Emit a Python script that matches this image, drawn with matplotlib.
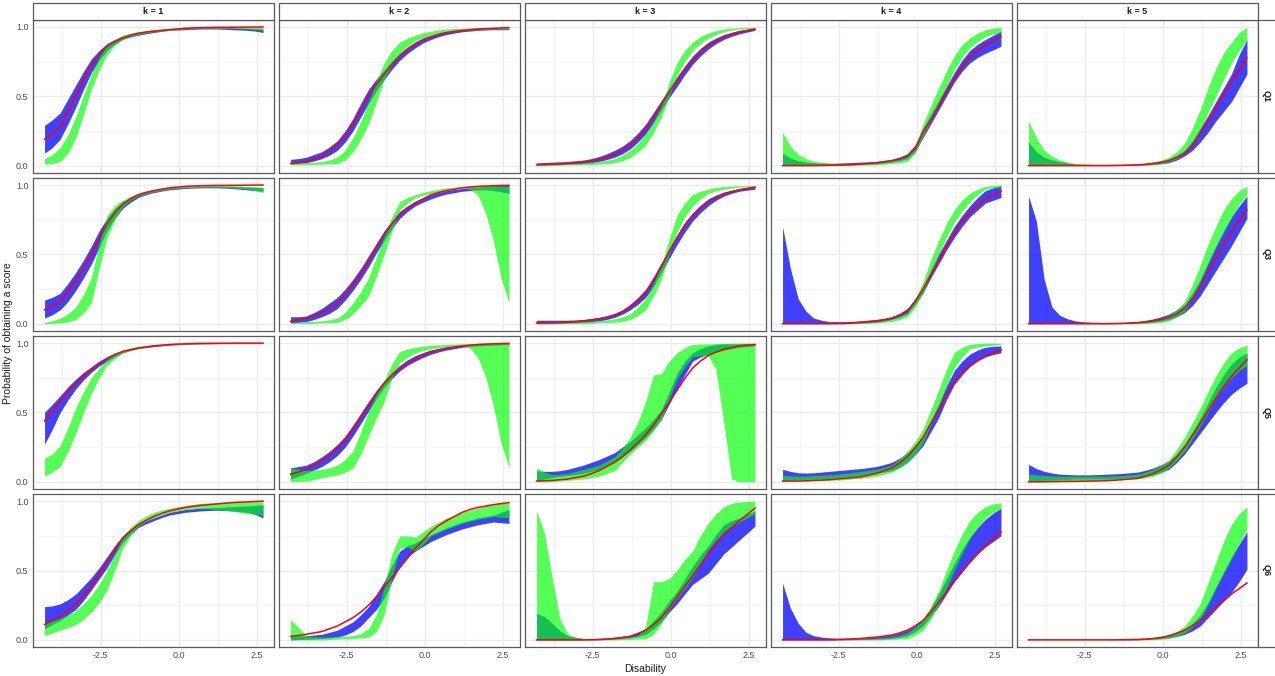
import matplotlib
matplotlib.use("Agg")
import matplotlib.pyplot as plt
from matplotlib.patches import Rectangle

plt.rcParams['font.family'] = ['Liberation Sans', 'DejaVu Sans']

# ---------------- data ----------------
X = [-4.3, -4.05, -3.8, -3.55, -3.3, -3.05, -2.8, -2.55, -2.3, -2.05, -1.8, -1.55, -1.3, -1.05,
     -0.8, -0.55, -0.3, -0.05, 0.2, 0.45, 0.7, 0.95, 1.2, 1.45, 1.7, 1.95, 2.2, 2.45, 2.7]
K_LABELS = ["k = 1", "k = 2", "k = 3", "k = 4", "k = 5"]
Q_LABELS = ["Q1", "Q3", "Q5", "Q6"]
X_TICKS = [-2.5, 0.0, 2.5]
X_TICK_LABELS = ["-2.5", "0.0", "2.5"]
Y_TICKS = [0.0, 0.5, 1.0]
Y_TICK_LABELS = ["0.0", "0.5", "1.0"]

# ---------- Q1 (one list per k) ----------
Q1_RED = [
    [.19, .23, .28, .39, .50, .62, .72, .80, .86, .895, .92, .94, .955, .963, .97, .975, .98, .985, .99, .993, .995, .996, .997, .9975, .998, .9985, .999, .9995, 1.0],
    [.015, .02, .03, .045, .07, .105, .15, .22, .30, .40, .50, .585, .66, .73, .79, .84, .88, .91, .93, .947, .96, .968, .975, .98, .985, .988, .99, .993, .995],
    [.005, .007, .01, .012, .015, .02, .025, .033, .045, .06, .08, .11, .15, .20, .26, .345, .44, .53, .61, .69, .76, .82, .87, .90, .93, .95, .965, .975, .985],
    [0, 0, 0, 0, 0, .001, .002, .003, .005, .007, .01, .015, .02, .027, .035, .05, .07, .12, .24, .33, .43, .53, .63, .71, .78, .83, .87, .90, .93],
    [0, 0, 0, 0, 0, 0, 0, 0, 0, 0, 0, .001, .002, .003, .005, .009, .015, .023, .035, .058, .09, .15, .23, .32, .41, .51, .60, .69, .78],
]
Q1_BLUE_HI = [
    [.29, .33, .38, .48, .58, .68, .77, .83, .88, .91, .935, .95, .96, .968, .975, .98, .985, .988, .99, .993, .995, .995, .995, .995, .995, .993, .99, .988, .985],
    [.045, .05, .06, .08, .10, .135, .18, .25, .34, .45, .55, .625, .69, .755, .81, .855, .89, .915, .935, .952, .965, .973, .98, .985, .99, .99, .99, .99, .99],
    [.02, .022, .025, .027, .03, .035, .04, .05, .065, .085, .11, .14, .18, .235, .30, .385, .47, .56, .64, .72, .79, .845, .89, .92, .945, .96, .975, .983, .99],
    [.09, .055, .035, .025, .02, .017, .015, .017, .02, .022, .025, .027, .03, .037, .045, .06, .085, .15, .27, .37, .47, .57, .67, .76, .83, .875, .91, .94, .97],
    [.17, .10, .06, .04, .03, .018, .01, .009, .008, .007, .006, .007, .008, .01, .012, .017, .025, .035, .05, .075, .11, .18, .27, .36, .46, .56, .66, .80, .91],
]
Q1_BLUE_LO = [
    [.09, .13, .19, .30, .42, .55, .67, .76, .83, .875, .91, .927, .94, .95, .96, .968, .975, .978, .98, .983, .985, .985, .985, .983, .98, .978, .975, .97, .96],
    [.01, .015, .02, .033, .05, .075, .11, .17, .25, .35, .45, .54, .62, .695, .76, .81, .85, .885, .91, .93, .945, .956, .965, .97, .975, .978, .98, .98, .98],
    [.005, .005, .005, .007, .01, .012, .015, .02, .03, .043, .06, .085, .12, .17, .23, .31, .40, .49, .57, .655, .73, .79, .84, .88, .91, .932, .95, .963, .975],
    [0, 0, 0, 0, 0, 0, 0, .002, .005, .006, .008, .01, .012, .018, .025, .035, .05, .10, .20, .30, .40, .50, .60, .68, .74, .78, .81, .835, .86],
    [0, 0, 0, 0, 0, 0, 0, 0, 0, 0, 0, 0, 0, .001, .002, .005, .008, .013, .02, .04, .07, .11, .17, .24, .32, .39, .46, .56, .66],
]
Q1_GREEN_HI = [
    [.05, .08, .13, .22, .35, .51, .66, .78, .87, .91, .94, .955, .965, .973, .98, .985, .99, .993, .995, .997, .998, .999, 1.0, 1.0, 1.0, .999, .998, .997, .995],
    [.025, .022, .02, .024, .03, .04, .06, .11, .20, .32, .46, .61, .74, .83, .89, .92, .94, .957, .97, .978, .985, .988, .99, .993, .995, .995, .995, .995, .995],
    [.015, .013, .012, .013, .015, .017, .02, .025, .03, .038, .05, .075, .11, .16, .23, .32, .43, .60, .74, .83, .89, .93, .955, .973, .985, .99, .995, .997, .998],
    [.24, .14, .08, .05, .03, .024, .02, .017, .015, .015, .015, .017, .02, .027, .035, .045, .065, .14, .30, .43, .56, .68, .79, .87, .92, .955, .98, .99, 1.0],
    [.32, .20, .11, .065, .04, .025, .015, .011, .008, .006, .004, .004, .004, .006, .008, .015, .025, .04, .06, .10, .16, .27, .40, .56, .70, .81, .89, .96, .995],
]
Q1_GREEN_LO = [
    [.01, .015, .03, .09, .20, .37, .55, .69, .80, .87, .91, .93, .945, .956, .965, .97, .975, .98, .985, .988, .99, .99, .99, .99, .99, .988, .985, .98, .975],
    [.005, .005, .005, .007, .01, .012, .015, .04, .10, .19, .30, .46, .62, .73, .81, .86, .90, .922, .94, .95, .96, .968, .975, .978, .98, .983, .985, .985, .985],
    [0, 0, 0, .002, .005, .005, .005, .007, .01, .014, .02, .035, .06, .10, .15, .24, .35, .50, .65, .75, .83, .88, .92, .945, .965, .977, .985, .988, .99],
    [0, 0, 0, 0, 0, 0, 0, 0, 0, .001, .003, .004, .005, .01, .015, .02, .03, .09, .21, .33, .45, .57, .69, .78, .85, .895, .93, .95, .96],
    [0, 0, 0, 0, 0, 0, 0, 0, 0, 0, 0, 0, 0, 0, 0, .002, .005, .013, .025, .05, .09, .16, .26, .38, .50, .62, .74, .83, .91],
]

# ---------- Q3 ----------
Q3_RED = [
    [.10, .125, .16, .23, .31, .40, .50, .61, .72, .80, .86, .90, .93, .947, .96, .97, .98, .985, .99, .993, .995, .996, .997, .9975, .998, .9985, .999, .9995, 1.0],
    [.017, .027, .04, .057, .08, .11, .15, .21, .28, .36, .45, .55, .64, .72, .79, .835, .87, .90, .93, .947, .96, .97, .98, .985, .99, .993, .995, .997, .998],
    [.005, .006, .007, .008, .01, .015, .02, .027, .035, .046, .06, .085, .12, .165, .22, .31, .41, .52, .62, .71, .78, .835, .88, .91, .935, .952, .965, .976, .985],
    [0, 0, 0, 0, 0, 0, 0, .001, .002, .005, .01, .015, .02, .028, .04, .06, .09, .16, .25, .35, .45, .56, .66, .74, .80, .855, .90, .93, .955],
    [0, 0, 0, 0, 0, 0, 0, 0, 0, 0, 0, .001, .002, .005, .008, .013, .02, .03, .045, .07, .11, .18, .27, .37, .47, .57, .66, .745, .82],
]
Q3_BLUE_HI = [
    [.17, .19, .22, .29, .37, .46, .56, .67, .76, .83, .88, .91, .935, .952, .965, .973, .98, .983, .985, .988, .99, .99, .99, .99, .99, .988, .985, .983, .98],
    [.05, .05, .055, .08, .11, .15, .19, .25, .32, .40, .49, .58, .67, .745, .81, .85, .885, .91, .93, .947, .96, .968, .975, .98, .985, .99, .995, .998, 1.0],
    [.025, .025, .025, .025, .025, .027, .03, .037, .045, .058, .075, .10, .14, .19, .25, .34, .44, .54, .64, .73, .80, .855, .90, .928, .95, .963, .975, .983, .99],
    [.70, .40, .18, .09, .04, .025, .015, .015, .015, .017, .02, .025, .03, .038, .05, .075, .11, .18, .27, .39, .50, .60, .70, .78, .85, .91, .96, .98, .995],
    [.92, .74, .32, .12, .06, .035, .02, .014, .01, .009, .008, .008, .008, .011, .015, .024, .035, .05, .07, .10, .14, .22, .32, .44, .56, .67, .77, .85, .92],
]
Q3_BLUE_LO = [
    [.04, .065, .10, .16, .24, .33, .43, .55, .67, .76, .83, .875, .91, .93, .945, .956, .965, .97, .975, .978, .98, .98, .98, .978, .975, .97, .965, .96, .955],
    [.005, .01, .015, .03, .05, .075, .11, .17, .24, .32, .41, .51, .60, .685, .76, .81, .85, .877, .90, .92, .935, .945, .955, .96, .965, .965, .96, .95, .94],
    [0, 0, 0, .002, .005, .007, .01, .014, .02, .03, .045, .068, .10, .14, .19, .27, .37, .47, .57, .66, .74, .80, .85, .89, .92, .94, .955, .963, .97],
    [0, 0, 0, 0, 0, 0, 0, 0, 0, .002, .005, .007, .01, .018, .03, .045, .07, .14, .22, .33, .43, .53, .62, .70, .77, .82, .87, .89, .91],
    [0, 0, 0, 0, 0, 0, 0, 0, 0, 0, 0, 0, 0, .001, .002, .005, .01, .018, .03, .05, .08, .13, .20, .29, .38, .47, .56, .66, .76],
]
Q3_GREEN_HI = [
    [.01, .02, .04, .07, .12, .21, .33, .58, .78, .85, .89, .92, .94, .953, .965, .973, .98, .985, .99, .993, .995, .996, .997, .996, .995, .993, .99, .988, .985],
    [.01, .012, .015, .017, .02, .028, .04, .08, .15, .23, .33, .48, .63, .77, .88, .91, .93, .947, .96, .97, .98, .985, .99, .993, .995, .995, .995, .993, .99],
    [.01, .01, .01, .01, .01, .012, .015, .017, .02, .027, .035, .05, .07, .12, .18, .29, .42, .61, .78, .87, .93, .955, .97, .982, .99, .993, .995, .995, .995],
    [.005, .005, .005, .005, .005, .005, .005, .005, .005, .007, .01, .012, .015, .025, .035, .055, .08, .18, .30, .46, .60, .72, .82, .89, .94, .97, .99, .997, 1.0],
    [0, 0, 0, 0, 0, 0, 0, 0, 0, 0, 0, .001, .003, .005, .008, .015, .025, .04, .06, .10, .16, .28, .42, .57, .70, .82, .90, .96, .99],
]
Q3_GREEN_LO = [
    [0, .002, .005, .013, .03, .08, .15, .40, .62, .75, .84, .89, .92, .937, .95, .96, .97, .975, .98, .983, .985, .985, .985, .983, .98, .975, .97, .96, .945],
    [0, 0, 0, .002, .005, .007, .01, .03, .07, .13, .20, .34, .50, .67, .82, .87, .91, .927, .94, .953, .965, .973, .98, .97, .93, .80, .60, .33, .15],
    [0, 0, 0, 0, 0, 0, 0, .002, .005, .007, .01, .018, .03, .06, .10, .20, .32, .50, .66, .77, .85, .90, .94, .957, .97, .978, .985, .988, .99],
    [0, 0, 0, 0, 0, 0, 0, 0, 0, 0, 0, .002, .005, .01, .015, .03, .05, .12, .22, .36, .50, .62, .73, .81, .88, .93, .97, .98, .985],
    [0, 0, 0, 0, 0, 0, 0, 0, 0, 0, 0, 0, 0, 0, 0, .002, .005, .01, .02, .05, .09, .19, .30, .43, .55, .66, .76, .86, .93],
]

# ---------- Q5 ----------
Q5_RED = [
    [.44, .51, .58, .65, .71, .765, .81, .855, .89, .918, .94, .953, .965, .973, .98, .985, .99, .993, .995, .997, .998, .9985, .999, .9995, 1.0, 1.0, 1.0, 1.0, 1.0],
    [.055, .07, .09, .115, .15, .19, .24, .30, .38, .465, .55, .635, .71, .77, .82, .86, .89, .918, .94, .953, .965, .973, .98, .985, .99, .993, .995, .997, .998],
    [.005, .007, .01, .015, .02, .03, .04, .058, .08, .11, .14, .18, .23, .28, .34, .41, .49, .575, .66, .745, .82, .87, .91, .935, .955, .968, .98, .985, .99],
    [.005, .005, .005, .007, .01, .012, .015, .02, .025, .03, .035, .047, .06, .08, .10, .135, .18, .245, .32, .42, .52, .625, .72, .785, .84, .878, .91, .93, .95],
    [0, 0, 0, .001, .002, .0025, .003, .004, .005, .006, .008, .011, .015, .02, .025, .04, .06, .088, .12, .18, .25, .335, .42, .51, .60, .685, .76, .82, .88],
]
Q5_BLUE_HI = [
    [.50, .56, .62, .685, .74, .79, .83, .87, .90, .925, .945, .96, .97, .978, .985, .988, .99, .993, .995, .997, .998, .9985, .999, .9995, 1.0, 1.0, 1.0, 1.0, 1.0],
    [.10, .11, .12, .145, .18, .22, .27, .33, .41, .495, .58, .66, .73, .79, .84, .88, .91, .932, .95, .96, .97, .978, .985, .988, .99, .993, .995, .998, 1.0],
    [.08, .075, .075, .08, .09, .105, .12, .14, .16, .185, .21, .25, .29, .34, .39, .45, .52, .65, .78, .87, .93, .96, .98, .99, .995, .995, .995, .997, .998],
    [.09, .075, .065, .063, .065, .07, .075, .08, .085, .09, .095, .102, .11, .124, .14, .17, .21, .265, .33, .44, .56, .69, .80, .87, .92, .95, .97, .977, .98],
    [.125, .095, .075, .063, .055, .052, .05, .05, .05, .052, .055, .057, .06, .065, .07, .083, .10, .123, .15, .20, .27, .36, .46, .57, .68, .77, .85, .90, .93],
]
Q5_BLUE_LO = [
    [.27, .38, .50, .59, .67, .735, .79, .835, .87, .90, .93, .947, .96, .968, .975, .98, .985, .988, .99, .993, .995, .9955, .996, .9965, .997, .997, .997, .997, .997],
    [.02, .04, .06, .085, .11, .145, .19, .25, .33, .42, .51, .60, .68, .745, .80, .84, .87, .897, .92, .937, .95, .96, .97, .975, .98, .983, .985, .988, .99],
    [.005, .02, .03, .038, .045, .052, .06, .075, .09, .115, .14, .18, .22, .27, .32, .38, .45, .56, .67, .77, .87, .90, .92, .935, .95, .96, .97, .975, .98],
    [.01, .012, .015, .017, .02, .022, .025, .03, .035, .04, .045, .052, .06, .07, .08, .105, .14, .195, .26, .36, .46, .59, .70, .77, .83, .87, .90, .918, .93],
    [.005, .007, .01, .012, .015, .017, .02, .02, .02, .02, .02, .022, .025, .027, .03, .038, .05, .068, .09, .14, .20, .275, .35, .425, .50, .57, .63, .675, .71],
]
Q5_GREEN_HI = [
    [.17, .20, .26, .39, .53, .65, .75, .82, .88, .92, .95, .963, .975, .983, .99, .993, .995, .996, .997, .9975, .998, .9985, .999, .9995, 1.0, 1.0, 1.0, 1.0, 1.0],
    [.10, .09, .08, .085, .09, .10, .12, .16, .22, .36, .51, .63, .73, .85, .94, .957, .97, .978, .985, .988, .99, .993, .995, .997, .998, .999, 1.0, 1.0, 1.0],
    [.10, .07, .05, .055, .06, .075, .09, .105, .12, .15, .18, .24, .32, .43, .58, .77, .78, .87, .93, .965, .99, .993, .995, .997, .998, .999, 1.0, 1.0, 1.0],
    [.045, .042, .04, .042, .045, .047, .05, .055, .06, .067, .075, .082, .09, .105, .12, .165, .22, .29, .38, .52, .66, .81, .93, .97, .99, .997, 1.0, 1.0, 1.0],
    [.055, .05, .045, .042, .04, .04, .04, .04, .04, .04, .04, .042, .045, .05, .055, .07, .09, .12, .16, .235, .32, .425, .53, .65, .76, .855, .93, .965, .985],
]
Q5_GREEN_LO = [
    [.04, .07, .11, .22, .35, .50, .64, .75, .84, .89, .93, .947, .96, .97, .98, .985, .99, .992, .993, .994, .995, .9955, .996, .9965, .997, .997, .997, .997, .997],
    [0, .002, .005, .015, .03, .04, .05, .07, .10, .20, .33, .46, .58, .75, .86, .90, .93, .947, .96, .968, .975, .98, .985, .965, .90, .76, .55, .28, .10],
    [0, 0, 0, .005, .01, .015, .02, .03, .04, .06, .08, .14, .20, .25, .30, .37, .45, .60, .74, .83, .90, .91, .91, .81, .43, .02, 0, 0, 0],
    [.005, .005, .005, .005, .005, .007, .01, .012, .015, .02, .025, .032, .04, .055, .07, .10, .14, .20, .28, .41, .54, .69, .82, .90, .96, .972, .98, .985, .99],
    [0, .002, .005, .005, .005, .005, .005, .006, .008, .009, .01, .012, .015, .017, .02, .028, .04, .065, .10, .155, .22, .31, .40, .50, .60, .68, .75, .80, .84],
]

# ---------- Q6 ----------
Q6_RED = [
    [.11, .14, .17, .21, .26, .32, .39, .47, .56, .65, .73, .785, .83, .862, .89, .912, .93, .943, .955, .963, .97, .975, .98, .985, .99, .993, .995, .998, 1.0],
    [.025, .032, .04, .05, .06, .08, .10, .13, .16, .20, .25, .31, .38, .45, .52, .59, .66, .72, .78, .825, .86, .89, .92, .94, .955, .965, .975, .983, .99],
    [0, 0, 0, 0, 0, 0, 0, .001, .003, .006, .01, .016, .025, .045, .07, .11, .16, .23, .31, .385, .46, .54, .62, .69, .76, .81, .86, .905, .95],
    [0, 0, 0, 0, 0, 0, 0, .002, .005, .007, .01, .015, .02, .027, .035, .05, .07, .10, .14, .20, .27, .345, .42, .49, .56, .62, .68, .73, .78],
    [0, 0, 0, 0, 0, 0, 0, 0, 0, 0, 0, 0, .001, .002, .003, .006, .01, .018, .03, .048, .07, .10, .14, .185, .23, .28, .33, .37, .41],
]
Q6_BLUE_HI = [
    [.24, .245, .26, .29, .33, .39, .45, .52, .60, .68, .75, .80, .84, .862, .88, .90, .92, .93, .94, .945, .95, .953, .955, .958, .96, .963, .965, .97, .975],
    [.03, .03, .03, .035, .04, .055, .07, .10, .13, .18, .24, .33, .42, .54, .64, .68, .70, .73, .76, .785, .81, .83, .85, .865, .88, .89, .90, .92, .94],
    [.19, .17, .12, .065, .03, .018, .01, .01, .01, .014, .02, .027, .035, .055, .08, .14, .20, .28, .35, .44, .53, .61, .68, .76, .83, .86, .88, .905, .93],
    [.41, .23, .12, .055, .03, .02, .015, .012, .01, .012, .015, .017, .02, .027, .035, .05, .07, .10, .15, .23, .33, .44, .55, .65, .74, .81, .87, .915, .95],
    [0, 0, 0, 0, 0, 0, 0, 0, 0, 0, 0, .001, .002, .003, .005, .009, .015, .024, .035, .055, .08, .12, .18, .27, .38, .49, .60, .69, .78],
]
Q6_BLUE_LO = [
    [.08, .11, .14, .18, .22, .285, .36, .44, .52, .615, .70, .76, .81, .837, .86, .882, .90, .91, .92, .925, .93, .933, .935, .933, .93, .925, .92, .905, .88],
    [0, .002, .005, .007, .01, .015, .02, .035, .06, .10, .16, .22, .30, .42, .53, .60, .64, .675, .71, .735, .76, .78, .80, .815, .83, .84, .85, .845, .84],
    [0, 0, 0, 0, 0, 0, 0, 0, 0, .002, .005, .01, .015, .025, .04, .08, .13, .20, .26, .33, .40, .44, .48, .55, .62, .67, .72, .77, .82],
    [0, 0, 0, 0, 0, 0, 0, 0, 0, .001, .002, .003, .005, .007, .01, .018, .03, .06, .10, .17, .24, .33, .42, .49, .56, .62, .67, .71, .75],
    [0, 0, 0, 0, 0, 0, 0, 0, 0, 0, 0, 0, 0, 0, 0, .002, .005, .009, .015, .025, .04, .065, .10, .16, .22, .28, .34, .42, .51],
]
Q6_GREEN_HI = [
    [.12, .135, .155, .18, .21, .26, .32, .40, .50, .62, .74, .81, .86, .893, .92, .937, .95, .96, .97, .978, .985, .988, .99, .993, .995, .995, .995, .995, .995],
    [.145, .09, .03, .022, .02, .022, .025, .027, .03, .045, .08, .18, .38, .62, .75, .75, .74, .78, .82, .85, .88, .90, .92, .935, .95, .965, .98, .985, .99],
    [.93, .77, .45, .15, .04, .02, .01, .007, .005, .007, .01, .015, .02, .03, .10, .42, .42, .44, .50, .58, .64, .75, .84, .91, .96, .985, .995, .998, 1.0],
    [0, 0, 0, 0, 0, 0, 0, .002, .005, .006, .008, .009, .01, .015, .02, .032, .05, .09, .14, .24, .35, .50, .64, .76, .86, .92, .96, .98, .99],
    [0, 0, 0, 0, 0, 0, 0, 0, 0, 0, 0, 0, .001, .002, .003, .006, .01, .018, .03, .06, .10, .17, .26, .41, .56, .71, .83, .91, .96],
]
Q6_GREEN_LO = [
    [.03, .05, .07, .09, .11, .15, .20, .27, .36, .50, .66, .75, .82, .853, .88, .90, .92, .93, .94, .945, .95, .945, .94, .935, .93, .92, .91, .905, .90],
    [0, 0, 0, 0, 0, .002, .005, .007, .01, .014, .02, .06, .18, .45, .66, .67, .64, .69, .75, .775, .80, .82, .84, .855, .87, .88, .89, .885, .88],
    [0, 0, 0, 0, 0, 0, 0, 0, 0, 0, 0, .002, .003, .006, .01, .04, .12, .22, .30, .37, .45, .55, .65, .72, .78, .82, .85, .88, .91],
    [0, 0, 0, 0, 0, 0, 0, 0, 0, 0, 0, 0, 0, .001, .003, .006, .01, .035, .07, .15, .25, .37, .50, .62, .73, .81, .88, .92, .95],
    [0, 0, 0, 0, 0, 0, 0, 0, 0, 0, 0, 0, 0, 0, 0, .001, .002, .005, .01, .025, .05, .09, .15, .25, .37, .48, .58, .69, .80],
]

RED = [Q1_RED, Q3_RED, Q5_RED, Q6_RED]
BLUE_HI = [Q1_BLUE_HI, Q3_BLUE_HI, Q5_BLUE_HI, Q6_BLUE_HI]
BLUE_LO = [Q1_BLUE_LO, Q3_BLUE_LO, Q5_BLUE_LO, Q6_BLUE_LO]
GREEN_HI = [Q1_GREEN_HI, Q3_GREEN_HI, Q5_GREEN_HI, Q6_GREEN_HI]
GREEN_LO = [Q1_GREEN_LO, Q3_GREEN_LO, Q5_GREEN_LO, Q6_GREEN_LO]

# sanity check of lengths
for name, grp in [("RED", RED), ("BLUE_HI", BLUE_HI), ("BLUE_LO", BLUE_LO),
                  ("GREEN_HI", GREEN_HI), ("GREEN_LO", GREEN_LO)]:
    for qi, rows in enumerate(grp):
        for ki, vals in enumerate(rows):
            if len(vals) != len(X):
                raise ValueError(f"{Q_LABELS[qi]} {name} k={ki + 1}: {len(vals)} values")

# ---------------- layout ----------------
W, H = 1275, 676
fig = plt.figure(figsize=(W / 100, H / 100), dpi=100)

col_left = [32.7 + 246.0 * j for j in range(5)]
panel_w = 241.5
row_top = [20.0 + 158.1 * i for i in range(4)]
panel_h = 152.5
border_col = "#5a5a5a"
text_col = "#4D4D4D"


def fx(px):
    return px / W


def fy(py):
    return 1 - py / H


for i in range(4):
    for j in range(5):
        l = col_left[j]
        t = row_top[i]
        ax = fig.add_axes([fx(l), fy(t + panel_h), panel_w / W, panel_h / H])
        ax.set_xlim(-4.68, 3.06)
        ax.set_ylim(-0.05, 1.05)
        ax.set_xticks(X_TICKS)
        ax.set_xticks([-3.75, -1.25, 1.25], minor=True)
        ax.set_yticks(Y_TICKS)
        ax.set_yticks([0.25, 0.75], minor=True)
        ax.grid(which="major", color="#EBEBEB", linewidth=0.9)
        ax.grid(which="minor", color="#F3F3F3", linewidth=0.5)
        ax.set_axisbelow(True)
        ax.fill_between(X, BLUE_LO[i][j], BLUE_HI[i][j], color=(0, 0, 1), alpha=0.75,
                        linewidth=0)
        ax.fill_between(X, GREEN_LO[i][j], GREEN_HI[i][j], color=(0, 1, 0), alpha=0.667,
                        linewidth=0)
        ax.plot(X, RED[i][j], color="red", linewidth=1.1)
        for s in ax.spines.values():
            s.set_color(border_col)
            s.set_linewidth(0.9)
        ax.tick_params(which="both", length=0, colors=text_col, labelsize=6.5, pad=3)
        if j == 0:
            ax.set_yticklabels(Y_TICK_LABELS)
        else:
            ax.set_yticklabels([])
        if i == 3:
            ax.set_xticklabels(X_TICK_LABELS)
        else:
            ax.set_xticklabels([])

# top strips
for j in range(5):
    l = col_left[j]
    r = Rectangle((fx(l), fy(20.0)), panel_w / W, 17.3 / H, transform=fig.transFigure,
                  facecolor="white", edgecolor=border_col, linewidth=0.9)
    fig.add_artist(r)
    fig.text(fx(l + panel_w / 2), fy(11.5), K_LABELS[j], ha="center", va="center",
             fontsize=6.5, fontweight="bold", color="#1A1A1A")

# right strips
for i in range(4):
    t = row_top[i]
    r = Rectangle((fx(1258.2), fy(t + panel_h)), 30 / W, panel_h / H, transform=fig.transFigure,
                  facecolor="white", edgecolor=border_col, linewidth=0.9, clip_on=False)
    fig.add_artist(r)
    fig.text(fx(1266.5), fy(t + panel_h / 2), Q_LABELS[i], ha="center", va="center",
             rotation=-90, fontsize=6.5, fontweight="bold", color="#1A1A1A")

fig.text(fx(8), fy(333.5), "Probability of obtaining a score", rotation=90,
         ha="center", va="center", fontsize=7.5, color="#1A1A1A")
fig.text(fx(645.5), fy(669), "Disability", ha="center", va="center",
         fontsize=7.5, color="#1A1A1A")

fig.savefig("out.png", dpi=100, facecolor="white")
